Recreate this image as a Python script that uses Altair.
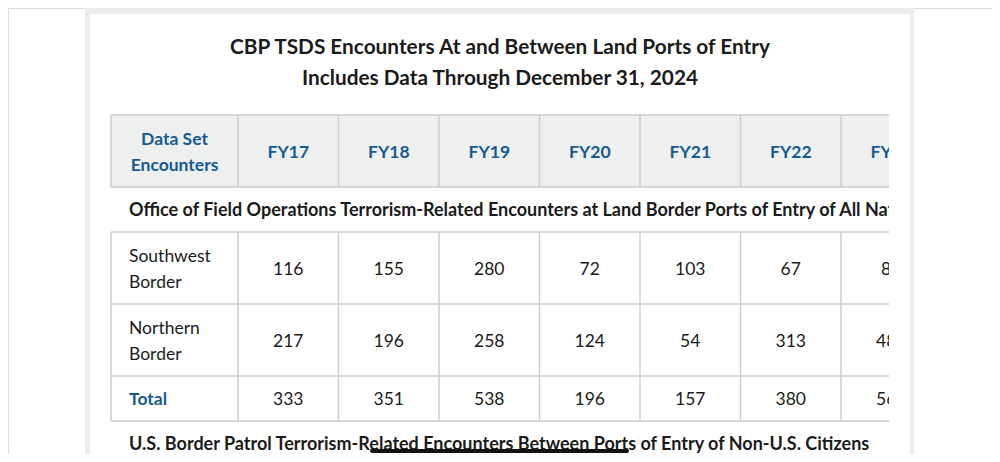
import altair as alt
import pandas as pd

# ---------------- data ----------------
title_lines = ["CBP TSDS Encounters At and Between Land Ports of Entry",
               "Includes Data Through December 31, 2024"]
first_header = ["Data Set", "Encounters"]
years = ["FY17", "FY18", "FY19", "FY20", "FY21", "FY22", "FY23"]
section_titles = [
    "Office of Field Operations Terrorism-Related Encounters at Land Border Ports of Entry of All Nationalities",
    "U.S. Border Patrol Terrorism-Related Encounters Between Ports of Entry of Non-U.S. Citizens",
]
row_labels = [["Southwest", "Border"], ["Northern", "Border"]]
total_label = "Total"
southwest = [116, 155, 280, 72, 103, 67, 83]
northern = [217, 196, 258, 124, 54, 313, 483]
total = [333, 351, 538, 196, 157, 380, 566]

# ---------------- layout (page pixels) ----------------
FONT = "Lato"
BLUE = "#165a92"
INK = "#1b1b1b"
GRID = "#cdcdcd"
HEAD_FILL = "#eef0f0"
PANEL = "#eceeed"

table_left = 111
first_w = 127
col_w = 100.5
clip_right = 889
table_top = 115
row_h = [72, 45, 72, 72, 45, 45]  # header, section, sw, north, total, section

col_edges = [table_left, table_left + first_w] + [table_left + first_w + col_w * (i + 1) for i in range(len(years))]
row_edges = [table_top]
for h in row_h:
    row_edges.append(row_edges[-1] + h)
row_mid = [(row_edges[i] + row_edges[i + 1]) / 2 for i in range(len(row_h))]
col_mid = [(col_edges[i] + col_edges[i + 1]) / 2 for i in range(len(col_edges) - 1)]

xs = alt.Scale(domain=[8, 992], nice=False, zero=False)
ys = alt.Scale(domain=[8, 454], nice=False, zero=False, reverse=True)
X = lambda f: alt.X(f, type="quantitative", scale=xs, axis=None)
Y = lambda f: alt.Y(f, type="quantitative", scale=ys, axis=None)


def rect_layer(df):
    return alt.Chart(df).mark_rect().encode(
        x=X("x"), x2="x2", y=Y("y"), y2="y2", fill=alt.Color("fill:N", scale=None))


# background rects
bg = rect_layer(pd.DataFrame([
    dict(x=85, x2=914, y=0, y2=470, fill=PANEL),
    dict(x=90, x2=910, y=14, y2=470, fill="#ffffff"),
    dict(x=table_left, x2=clip_right, y=row_edges[0], y2=row_edges[1], fill=HEAD_FILL),
]))

# grid lines
lines = []
for ye in row_edges:
    lines.append(dict(x=table_left, x2=clip_right, y=ye, y2=ye))
for (r0, r1) in [(0, 1), (2, 5)]:
    for xe in col_edges:
        if xe < clip_right:
            lines.append(dict(x=xe, x2=xe, y=row_edges[r0], y2=row_edges[r1]))
grid = alt.Chart(pd.DataFrame(lines)).mark_rule(color=GRID, strokeWidth=1.5).encode(
    x=X("x"), x2="x2", y=Y("y"), y2="y2")

# texts
title_df = pd.DataFrame([dict(x=500, y=54, t=title_lines[0]), dict(x=500, y=85, t=title_lines[1])])
title = alt.Chart(title_df).mark_text(font=FONT, fontWeight="bold", fontSize=20.8, color=INK,
                                      align="center", baseline="alphabetic").encode(
    x=X("x"), y=Y("y"), text="t:N")

head_rows = [dict(x=col_mid[0], y=row_mid[0] - 6.5, t=first_header[0]),
             dict(x=col_mid[0], y=row_mid[0] + 20, t=first_header[1])]
head_rows += [dict(x=col_mid[i + 1], y=row_mid[0] + 6.7, t=yv) for i, yv in enumerate(years)]
head = alt.Chart(pd.DataFrame(head_rows)).mark_text(font=FONT, fontWeight="bold", fontSize=17.5, color=BLUE,
                                                    align="center", baseline="alphabetic").encode(
    x=X("x"), y=Y("y"), text="t:N")
tot_lab = alt.Chart(pd.DataFrame([dict(x=table_left + 18, y=row_mid[4] + 6.5, t=total_label)])).mark_text(
    font=FONT, fontWeight="bold", fontSize=17.5, color=BLUE, align="left", baseline="alphabetic").encode(
    x=X("x"), y=Y("y"), text="t:N")

sec_df = pd.DataFrame([dict(x=table_left + 18, y=row_mid[1] + 6.5, t=section_titles[0]),
                       dict(x=table_left + 18, y=row_mid[5] + 6.5, t=section_titles[1])])
sec = alt.Chart(sec_df).mark_text(font=FONT, fontWeight="bold", fontSize=18.0, color=INK,
                                  align="left", baseline="alphabetic").encode(
    x=X("x"), y=Y("y"), text="t:N")

lab_rows = []
for ri, lab in zip([2, 3], row_labels):
    lab_rows.append(dict(x=table_left + 18, y=row_mid[ri] - 6.3, t=lab[0]))
    lab_rows.append(dict(x=table_left + 18, y=row_mid[ri] + 20.3, t=lab[1]))
labs = alt.Chart(pd.DataFrame(lab_rows)).mark_text(font=FONT, fontSize=17.5, color=INK,
                                                   align="left", baseline="alphabetic").encode(
    x=X("x"), y=Y("y"), text="t:N")

num_rows = []
for ri, vals in zip([2, 3, 4], [southwest, northern, total]):
    for i, v in enumerate(vals):
        num_rows.append(dict(x=col_mid[i + 1], y=row_mid[ri] + 6.8, t=str(v)))
nums = alt.Chart(pd.DataFrame(num_rows)).mark_text(font=FONT, fontSize=17.5, color=INK,
                                                   align="center", baseline="alphabetic").encode(
    x=X("x"), y=Y("y"), text="t:N")

# mask overflow to the right of the table's visible edge
y0m, y1m = row_edges[0] - 2, row_edges[5] - 1
mask = rect_layer(pd.DataFrame([
    dict(x=clip_right, x2=910, y=y0m, y2=y1m, fill="#ffffff"),
    dict(x=910, x2=914, y=y0m, y2=y1m, fill=PANEL),
    dict(x=914, x2=1000, y=y0m, y2=y1m, fill="#ffffff"),
]))

# black underline stroke
ul_df = pd.DataFrame([dict(x=372, x2=627, y=451, y2=451)])
ul = alt.Chart(ul_df).mark_rule(color="#111111", strokeWidth=4, strokeCap="round").encode(
    x=X("x"), x2="x2", y=Y("y"), y2="y2")

chart = alt.layer(bg, grid, title, head, tot_lab, sec, labs, nums, mask, ul).properties(
    width=984, height=446
).configure_view(strokeWidth=0, strokeOpacity=0).configure(
    padding=0, autosize=alt.AutoSizeParams(type="none"))

chart.save("out.html", embed_options={"renderer": "svg", "actions": False})
